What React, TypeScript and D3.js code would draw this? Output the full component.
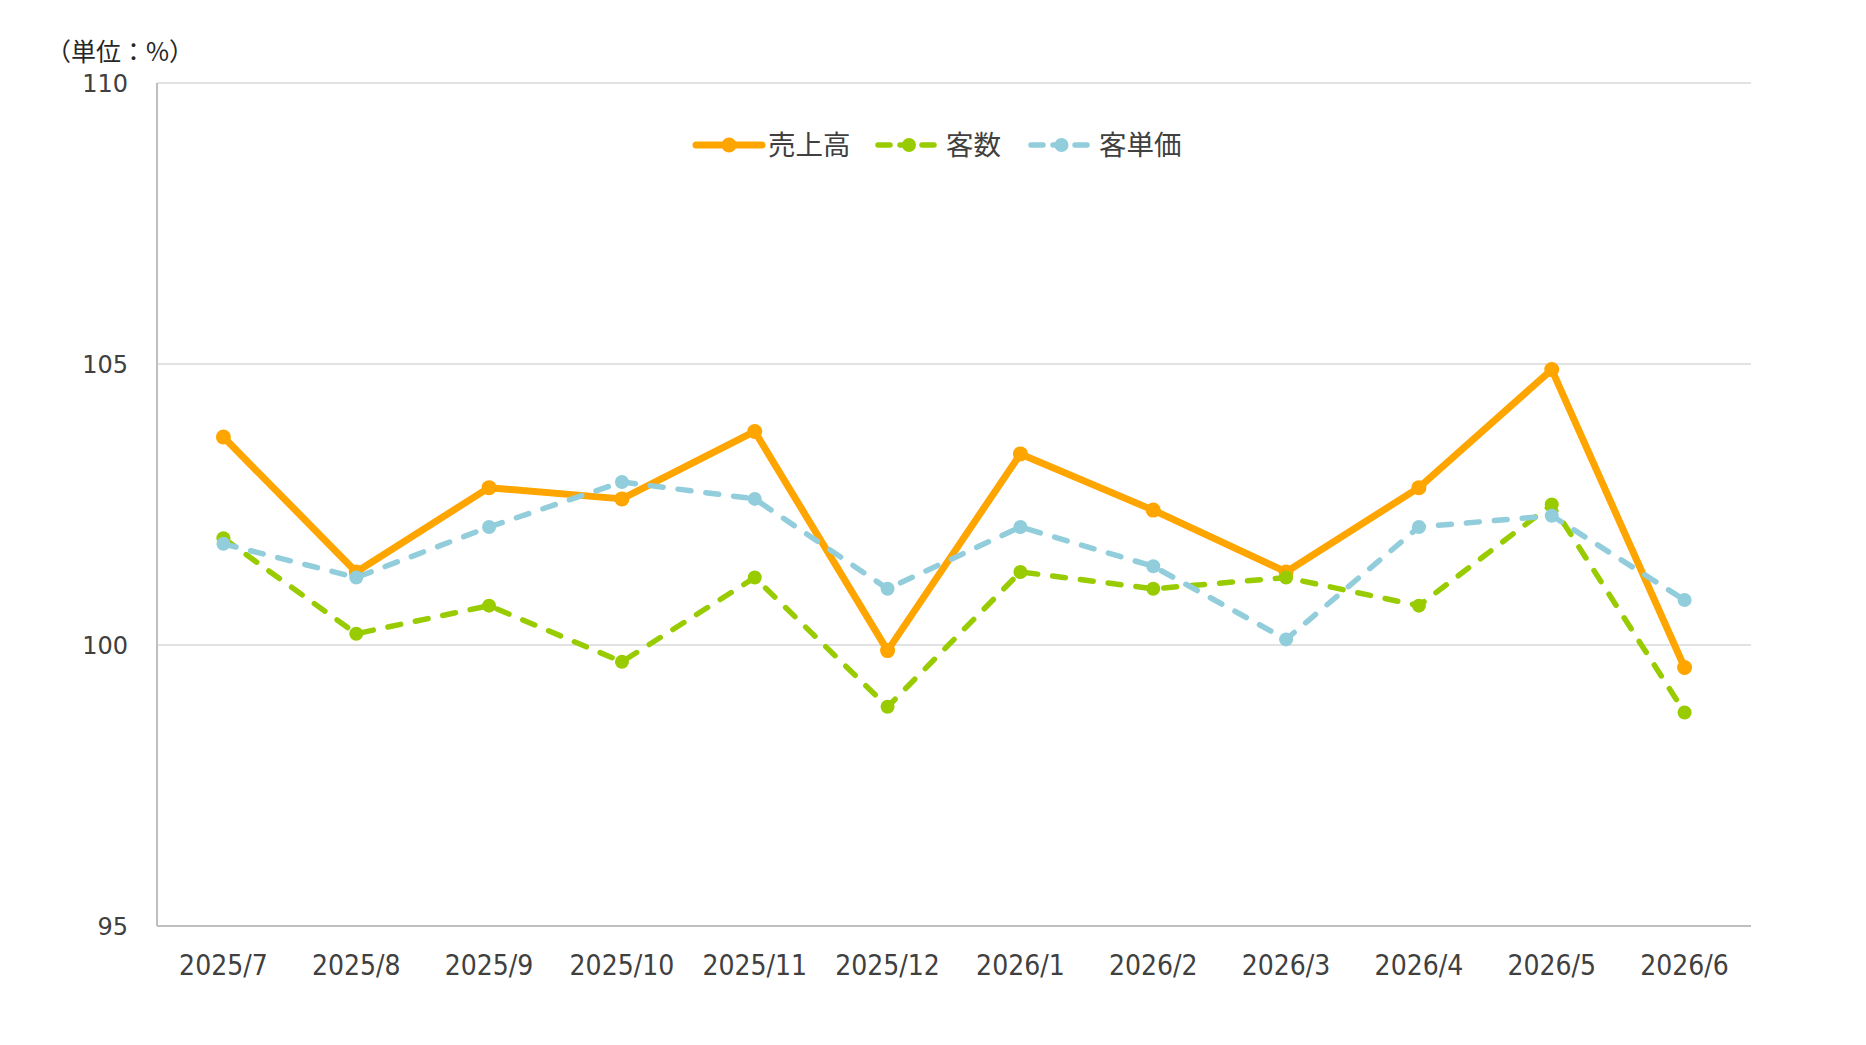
import React from 'react';
import * as d3 from 'd3';

// 月次の前年同月比（%）
const months = [
    '2025/7', '2025/8', '2025/9', '2025/10', '2025/11', '2025/12',
    '2026/1', '2026/2', '2026/3', '2026/4', '2026/5', '2026/6',
];
const sales = [103.7, 101.3, 102.8, 102.6, 103.8, 99.9, 103.4, 102.4, 101.3, 102.8, 104.9, 99.6];
const customers = [101.9, 100.2, 100.7, 99.7, 101.2, 98.9, 101.3, 101.0, 101.2, 100.7, 102.5, 98.8];
const unitPrice = [101.8, 101.2, 102.1, 102.9, 102.6, 101.0, 102.1, 101.4, 100.1, 102.1, 102.3, 100.8];
const yTicks = [95, 100, 105, 110];

interface Series {
    name: string;
    values: number[];
    color: string;
    width: number;
    dash?: string;
    r: number;
}

const series: Series[] = [
    { name: '売上高', values: sales, color: '#FFA500', width: 7, r: 7.5 },
    { name: '客数', values: customers, color: '#99CC00', width: 5.5, dash: '13 15', r: 7 },
    { name: '客単価', values: unitPrice, color: '#92CDDC', width: 5.5, dash: '13 15', r: 7 },
];

const W = 1866;
const H = 1045;
const plot = { left: 157, right: 1751, top: 83, bottom: 926 };

const JP = '"Noto Sans CJK JP", "Noto Sans", sans-serif';

const App: React.FC = () => {
    const x = d3
        .scaleBand<string>()
        .domain(months)
        .range([plot.left, plot.right]);
    const y = d3.scaleLinear().domain([95, 110]).range([plot.bottom, plot.top]);
    const cx = (m: string) => (x(m) ?? 0) + x.bandwidth() / 2;

    const line = d3
        .line<number>()
        .x((_, i) => cx(months[i]))
        .y((d) => y(d));

    // 凡例の配置
    const legendY = 145;
    const legendItems = [
        { s: series[0], x0: 696, x1: 762, tx: 768 },
        { s: series[1], x0: 878, x1: 940, tx: 946 },
        { s: series[2], x0: 1031, x1: 1092, tx: 1099 },
    ];

    return (
        <svg
            width={W}
            height={H}
            viewBox={`0 0 ${W} ${H}`}
            style={{ position: 'absolute', left: 0, top: 0, background: '#fff' }}
        >
            {/* 単位 */}
            <text x={46} y={61} fontFamily={JP} fontSize={25} fill="#262626">
                （単位：%）
            </text>

            {/* 目盛線 */}
            {yTicks.slice(1).map((t) => (
                <line
                    key={t}
                    x1={plot.left}
                    x2={plot.right}
                    y1={y(t)}
                    y2={y(t)}
                    stroke="#D9D9D9"
                    strokeWidth={1.5}
                />
            ))}
            {/* 軸 */}
            <line x1={plot.left} x2={plot.left} y1={plot.top} y2={plot.bottom} stroke="#BFBFBF" strokeWidth={2} />
            <line x1={plot.left} x2={plot.right} y1={plot.bottom} y2={plot.bottom} stroke="#BFBFBF" strokeWidth={2} />

            {/* Y軸ラベル */}
            {yTicks.map((t) => (
                <text
                    key={t}
                    x={128}
                    y={y(t)}
                    dy="0.36em"
                    textAnchor="end"
                    fontFamily='"DejaVu Sans", sans-serif'
                    fontSize={24}
                    fill="#404040"
                >
                    {t}
                </text>
            ))}

            {/* X軸ラベル */}
            {months.map((m) => (
                <text
                    key={m}
                    x={cx(m)}
                    y={975}
                    textAnchor="middle"
                    fontFamily='"DejaVu Sans Condensed", "DejaVu Sans", sans-serif'
                    fontSize={28}
                    fill="#404040"
                >
                    {m}
                </text>
            ))}

            {/* 折れ線 */}
            {series.map((s) => (
                <g key={s.name}>
                    <path
                        d={line(s.values) ?? ''}
                        fill="none"
                        stroke={s.color}
                        strokeWidth={s.width}
                        strokeDasharray={s.dash}
                        strokeLinecap="round"
                        strokeLinejoin="round"
                    />
                    {s.values.map((v, i) => (
                        <circle key={i} cx={cx(months[i])} cy={y(v)} r={s.r} fill={s.color} />
                    ))}
                </g>
            ))}

            {/* 凡例 */}
            {legendItems.map(({ s, x0, x1, tx }) => (
                <g key={s.name}>
                    <line
                        x1={x0}
                        x2={x1}
                        y1={legendY}
                        y2={legendY}
                        stroke={s.color}
                        strokeWidth={s.width}
                        strokeDasharray={s.dash ? '12 10' : undefined}
                        strokeLinecap="round"
                    />
                    <circle cx={(x0 + x1) / 2} cy={legendY} r={s.r} fill={s.color} />
                    <text
                        x={tx}
                        y={legendY}
                        dy="0.36em"
                        fontFamily={JP}
                        fontSize={27.5}
                        fill="#404040"
                    >
                        {s.name}
                    </text>
                </g>
            ))}
        </svg>
    );
};

export default App;
